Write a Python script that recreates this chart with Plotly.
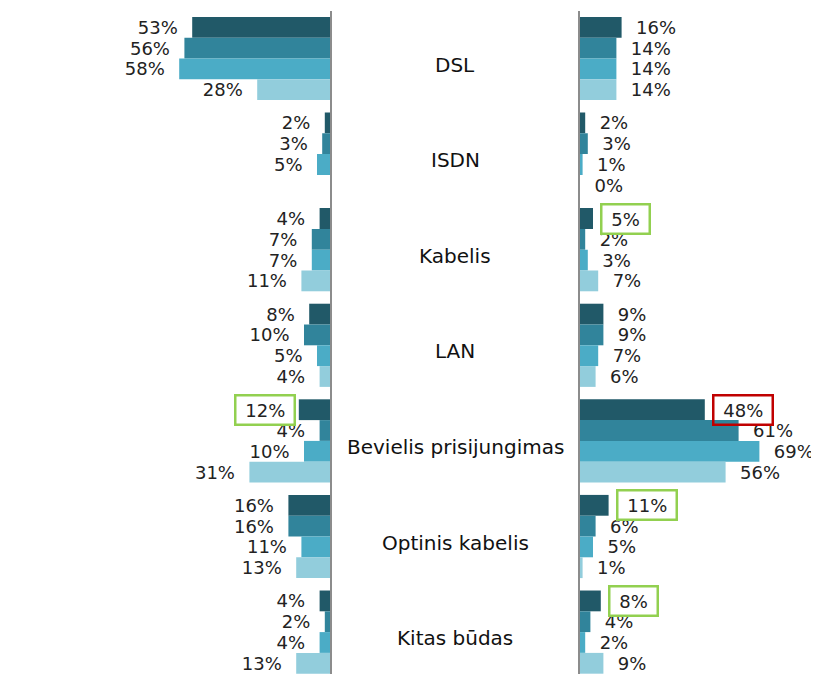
import plotly.graph_objects as go

categories = ["DSL", "ISDN", "Kabelis", "LAN", "Bevielis prisijungimas",
              "Optinis kabelis", "Kitas būdas"]

left_s1 = [53, 2, 4, 8, 12, 16, 4]
left_s2 = [56, 3, 7, 10, 4, 16, 2]
left_s3 = [58, 5, 7, 5, 10, 11, 4]
left_s4 = [28, None, 11, 4, 31, 13, 13]

right_s1 = [16, 2, 5, 9, 48, 11, 8]
right_s2 = [14, 3, 2, 9, 61, 6, 4]
right_s3 = [14, 1, 3, 7, 69, 5, 2]
right_s4 = [14, 0, 7, 6, 56, 1, 9]

# highlighted labels: (panel, category, series index, box colour)
highlights = [
    ("left", "Bevielis prisijungimas", 0, "#92D050"),
    ("right", "Kabelis", 0, "#92D050"),
    ("right", "Bevielis prisijungimas", 0, "#C00000"),
    ("right", "Optinis kabelis", 0, "#92D050"),
    ("right", "Kitas būdas", 0, "#92D050"),
]

colors = ["#215968", "#31849B", "#4BACC6", "#92CDDC"]
FONT = "DejaVu Sans"
FS = 18
CAT_FS = 20
NB = "\u00a0"

# page body has an 8px margin: work in page pixels, then subtract it
OFF = 8
PAGE_W, PAGE_H = 819, 674
W, H = PAGE_W - OFF, PAGE_H - OFF
left_px = (70 - OFF, 330 - OFF)
right_px = (580 - OFF, PAGE_W - OFF)
px_per_pct = 2.6
top_px = 10.7 - OFF
cat_px = 95.6
span = (H - top_px) / cat_px

fig = go.Figure()

hl_set = {(p, c, s): col for p, c, s, col in highlights}

def add_panel(series_list, panel, xaxis):
    for si, vals in enumerate(series_list):
        texts = []
        for ci, v in enumerate(vals):
            if v is None or (panel, categories[ci], si) in hl_set:
                texts.append("")
            elif panel == "left":
                texts.append(f"{v}%{NB}{NB}")
            else:
                texts.append(f"{NB}{NB}{v}%")
        fig.add_trace(go.Bar(
            x=vals, y=categories, orientation="h",
            xaxis=xaxis, yaxis="y" if xaxis == "x" else "y2",
            marker=dict(color=colors[si], line=dict(width=0)),
            text=texts, textposition="outside", cliponaxis=False,
            constraintext="none",
            textfont=dict(family=FONT, size=FS, color="#222222"),
            showlegend=False, hoverinfo="skip",
        ))

add_panel([left_s1, left_s2, left_s3, left_s4], "left", "x")
add_panel([right_s1, right_s2, right_s3, right_s4], "right", "x2")

series_by_panel = {"left": [left_s1, left_s2, left_s3, left_s4],
                   "right": [right_s1, right_s2, right_s3, right_s4]}

bar_px = cat_px * 0.87 / 4
annotations = []
for p, c, s, col in highlights:
    ci = categories.index(c)
    v = series_by_panel[p][s][ci]
    annotations.append(dict(
        x=v, y=c, xref="x" if p == "left" else "x2", yref="y",
        text=f"{NB}{v}%{NB}", showarrow=False,
        xanchor="right" if p == "left" else "left",
        xshift=-3 if p == "left" else 7,
        yshift=(1.5 - s) * bar_px,
        bordercolor=col, borderwidth=2.5, borderpad=3,
        font=dict(family=FONT, size=FS, color="#222222"),
    ))

mid = (left_px[1] + right_px[0]) / 2 / W
for c in categories:
    annotations.append(dict(
        x=mid, y=c, xref="paper", yref="y", text=c, showarrow=False,
        xanchor="center", yshift=-6,
        font=dict(family=FONT, size=CAT_FS, color="#111111"),
    ))

ydom = [0, (H - top_px) / H]
fig.update_layout(
    width=W, height=H,
    margin=dict(l=0, r=0, t=0, b=0),
    paper_bgcolor="white", plot_bgcolor="white",
    barmode="group", bargap=0.13, bargroupgap=0,
    xaxis=dict(domain=[left_px[0] / W, left_px[1] / W],
               range=[(left_px[1] - left_px[0]) / px_per_pct, 0],
               showgrid=False, zeroline=False, showline=False,
               showticklabels=False, ticks=""),
    xaxis2=dict(domain=[right_px[0] / W, right_px[1] / W],
                range=[0, (right_px[1] - right_px[0]) / px_per_pct],
                showgrid=False, zeroline=False, showline=False,
                showticklabels=False, ticks=""),
    yaxis=dict(domain=ydom, anchor="x", side="right", type="category",
               categoryorder="array", categoryarray=categories,
               range=[-0.5 + span, -0.5],
               showgrid=False, zeroline=False, showline=True,
               linecolor="#8C8C8C", linewidth=1.5,
               showticklabels=False, ticks=""),
    yaxis2=dict(domain=ydom, anchor="x2", side="left", matches="y",
                type="category",
                showgrid=False, zeroline=False, showline=True,
                linecolor="#8C8C8C", linewidth=1.5,
                showticklabels=False, ticks=""),
    annotations=annotations,
)

fig.write_html("out.html")
